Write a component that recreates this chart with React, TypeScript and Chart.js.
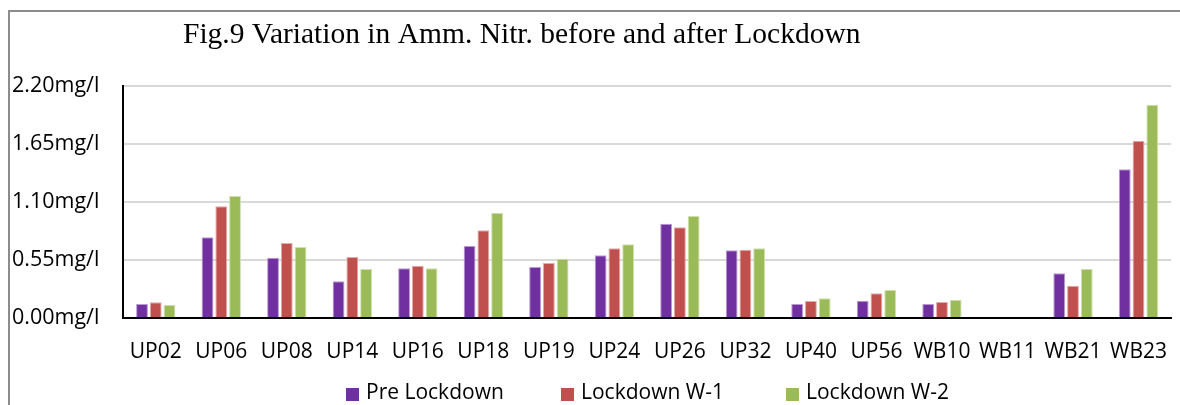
import React, { useEffect, useRef } from 'react';
import { Chart, registerables } from 'chart.js';

Chart.register(...registerables);

const categories = ['UP02', 'UP06', 'UP08', 'UP14', 'UP16', 'UP18', 'UP19', 'UP24', 'UP26', 'UP32', 'UP40', 'UP56', 'WB10', 'WB11', 'WB21', 'WB23'];
const preLockdown = [0.133, 0.765, 0.572, 0.348, 0.471, 0.683, 0.484, 0.595, 0.894, 0.642, 0.133, 0.164, 0.133, 0, 0.424, 1.41];
const lockdownW1 = [0.149, 1.059, 0.711, 0.578, 0.496, 0.832, 0.522, 0.661, 0.86, 0.648, 0.161, 0.234, 0.152, 0, 0.306, 1.681];
const lockdownW2 = [0.123, 1.157, 0.673, 0.465, 0.471, 0.996, 0.562, 0.699, 0.967, 0.661, 0.187, 0.266, 0.174, 0, 0.465, 2.023];
const seriesLabels = ['Pre Lockdown', 'Lockdown W-1', 'Lockdown W-2'];
const seriesColors = ['#7030A0', '#C0504D', '#9BBB59'];
const seriesBorders = ['#B89AD0', '#E4AAA8', '#CFE0AE'];
const yTicks = [0, 0.55, 1.1, 1.65, 2.2];
const titleText = 'Fig.9 Variation in Amm. Nitr. before and after Lockdown';

const sansFont = '"Open Sans", sans-serif';

const decorPlugin = {
  id: 'decor',
  beforeDraw(chart: any) {
    const ctx = chart.ctx;
    ctx.save();
    ctx.fillStyle = '#ffffff';
    ctx.fillRect(0, 0, chart.width, chart.height);
    // frame
    ctx.strokeStyle = '#8C8C8C';
    ctx.lineWidth = 2;
    ctx.beginPath();
    ctx.moveTo(9, chart.height);
    ctx.lineTo(9, 11);
    ctx.lineTo(chart.width, 11);
    ctx.stroke();
    ctx.restore();
  },
  afterDraw(chart: any) {
    const ctx = chart.ctx;
    ctx.save();
    // title
    ctx.fillStyle = '#000000';
    ctx.font = '29.5px "Liberation Serif", "Times New Roman", serif';
    ctx.textAlign = 'left';
    ctx.textBaseline = 'alphabetic';
    ctx.fillText(titleText, 183, 43);
    // legend
    const xs = [346, 561, 786];
    ctx.font = '21px ' + sansFont;
    chart.data.datasets.forEach((ds: any, i: number) => {
      ctx.fillStyle = ds.backgroundColor;
      ctx.fillRect(xs[i], 388, 13, 13);
      ctx.fillStyle = '#000000';
      ctx.fillText(ds.label, xs[i] + 20, 399);
    });
    ctx.restore();
  },
};

export default function App() {
  const ref = useRef<HTMLCanvasElement | null>(null);
  useEffect(() => {
    document.body.style.margin = '0';
    const canvas = ref.current!;
    const chart = new Chart(canvas, {
      type: 'bar',
      data: {
        labels: categories,
        datasets: [preLockdown, lockdownW1, lockdownW2].map((d, i) => ({
          label: seriesLabels[i],
          data: d,
          backgroundColor: seriesColors[i],
          borderColor: seriesBorders[i],
          borderWidth: 1,
          categoryPercentage: 0.63,
          barPercentage: 0.86,
        })),
      },
      options: {
        responsive: false,
        animation: false,
        layout: { padding: { left: 12, top: 86, right: 0, bottom: 37 } },
        plugins: {
          legend: { display: false },
          title: { display: false },
          tooltip: { enabled: false },
        },
        scales: {
          x: {
            grid: { display: false },
            border: { color: '#000000', width: 2 },
            ticks: { color: '#000000', font: { family: sansFont, size: 21 }, padding: 13, maxRotation: 0, autoSkip: false },
            afterFit: (s: any) => { s.height = 50; },
          },
          y: {
            min: 0,
            max: 2.2,
            grid: { color: '#D9D9D9', lineWidth: 2, tickLength: 0 },
            border: { color: '#000000', width: 2 },
            ticks: {
              color: '#000000',
              font: { family: sansFont, size: 21.5 },
              crossAlign: 'far',
              callback: (v: any) => Number(v).toFixed(2) + 'mg/l',
            },
            afterBuildTicks: (s: any) => { s.ticks = yTicks.map((v) => ({ value: v })); },
            afterFit: (s: any) => { s.width = 111; },
          },
        },
      },
      plugins: [decorPlugin],
    });
    return () => chart.destroy();
  }, []);
  return (
    <div style={{ position: 'absolute', left: 0, top: 0, width: 1180, height: 405 }}>
      <canvas ref={ref} width={1180} height={405} />
    </div>
  );
}
